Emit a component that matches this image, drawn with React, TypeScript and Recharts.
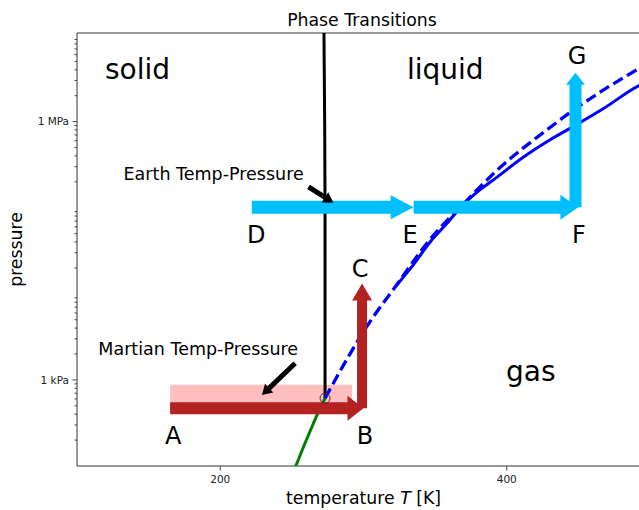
import React from 'react';
import { ComposedChart, Line, XAxis, YAxis, ReferenceArea, ReferenceDot } from 'recharts';

const FONT = '"DejaVu Sans", "Noto Sans", sans-serif';

// ---- phase boundary curves (T in K, P in Pa) ----
const meltT = [273.16, 273.15, 272.9, 272.4];
const meltP = [611.657, 1e5, 1e6, 1.07e7];

const sublT = [248, 253, 258, 263, 268, 273.16];
const sublP = [70, 103, 165, 260, 405, 611.657];

const vapApproxT = [273.16, 290, 302, 323, 346, 370, 393, 430, 446, 467, 500];
const vapApproxP = [611.657, 1930, 4100, 12600, 42000, 112000, 270000, 850000, 1.34e6, 2.3e6, 4.9e6];

const vapRealT = [323, 335, 346.5, 358, 369.5, 381, 393, 411, 430, 446, 467, 492, 500];
const vapRealP = [12500, 22000, 40000, 65000, 108000, 160000, 225000, 380000, 611000, 870000, 1.4e6, 2.6e6, 3.0e6];

const tripleT = 273.16;
const tripleP = 611.657;

// ---- Mars range ----
const marsRangeT = [165, 292];
const marsRangeP = [480, 880];

// ---- arrows ----
const marsPathT = [165, 300];
const marsPathP = [470, 470];
const marsRiseT = [299, 299];
const marsRiseP = [470, 13200];

const earthDET = [222, 335];
const earthDEP = [101325, 101325];
const earthEFT = [335, 450];
const earthEFP = [101325, 101325];
const earthFGT = [448, 448];
const earthFGP = [101325, 3.7e6];

const earthNoteT = [261.6, 279.0];
const earthNoteP = [175000, 114000];
const marsNoteT = [252.3, 229.1];
const marsNoteP = [1560, 668];

// ---- text labels (data coordinates) ----
const letterNames = ['A', 'B', 'C', 'D', 'E', 'F', 'G'];
const letterT = [167.2, 301.1, 297.6, 225.1, 332.5, 450.4, 449];
const letterP = [180, 180, 15700, 38900, 38900, 38900, 4.67e6];

const regionNames = ['solid', 'liquid', 'gas'];
const regionT = [119.5, 330.3, 399.5];
const regionP = [3.13e6, 3.13e6, 970];

const noteNames = ['Earth Temp-Pressure', 'Martian Temp-Pressure'];
const noteT = [132.5, 114.9];
const noteP = [210000, 1945];

// ---- axes ----
const xDomain = [100, 500];
const yDomain = [100, 1.07e7];
const xTicks = [200, 400];
const yMajor = [1e3, 1e6];
const yMajorLabels = ['1 kPa', '1 MPa'];
const yDecades = [1e2, 1e3, 1e4, 1e5, 1e6];
const ySubs = [2, 3, 4, 5, 6, 7, 8, 9];

const title = 'Phase Transitions';

const toPts = (xs: number[], ys: number[]) => xs.map((x, i) => ({ x, y: ys[i] }));

const yMinor = yDecades.flatMap((d) => ySubs.map((s) => s * d)).filter((v) => v < yDomain[1]);
const yTicks = [...yMinor, ...yMajor].sort((a, b) => a - b);

function arrowDot(color: string, w: number, hw: number, hl: number) {
  let first: { x: number; y: number } | null = null;
  return (props: any) => {
    const { cx, cy, index, points } = props;
    if (index === 0) {
      first = { x: cx, y: cy };
      return <g key={`s${index}`} />;
    }
    const p0 = points && points.length ? { x: points[0].x, y: points[0].y } : first;
    if (!p0) return <g key={`n${index}`} />;
    const dx = cx - p0.x;
    const dy = cy - p0.y;
    const len = Math.hypot(dx, dy) || 1;
    const ux = dx / len;
    const uy = dy / len;
    const nx = -uy;
    const ny = ux;
    const bx = cx - ux * hl;
    const by = cy - uy * hl;
    const pts = [
      [p0.x + (nx * w) / 2, p0.y + (ny * w) / 2],
      [bx + (nx * w) / 2, by + (ny * w) / 2],
      [bx + (nx * hw) / 2, by + (ny * hw) / 2],
      [cx, cy],
      [bx - (nx * hw) / 2, by - (ny * hw) / 2],
      [bx - (nx * w) / 2, by - (ny * w) / 2],
      [p0.x - (nx * w) / 2, p0.y - (ny * w) / 2],
    ]
      .map((p) => `${p[0]},${p[1]}`)
      .join(' ');
    return <polygon key={`h${index}`} points={pts} fill={color} stroke="none" />;
  };
}

const YTick = (props: any) => {
  const { x, y, payload } = props;
  const v = payload.value;
  const idx = yMajor.indexOf(v);
  const major = idx >= 0;
  const len = major ? 4.5 : 2.5;
  return (
    <g>
      <line x1={x} x2={x - len} y1={y} y2={y} stroke="#444" strokeWidth={1} />
      {major && (
        <text x={x - 8} y={y} dy="0.35em" textAnchor="end" fontSize={10.5} fill="#222" fontFamily={FONT}>
          {yMajorLabels[idx]}
        </text>
      )}
    </g>
  );
};

const XTick = (props: any) => {
  const { x, y, payload } = props;
  return (
    <g>
      <line x1={x} x2={x} y1={y} y2={y + 4.5} stroke="#444" strokeWidth={1} />
      <text x={x} y={y + 17} textAnchor="middle" fontSize={10.5} fill="#222" fontFamily={FONT}>
        {payload.value}
      </text>
    </g>
  );
};

const textShape = (label: string, size: number, anchor: string) => (props: any) => (
  <text x={props.cx} y={props.cy} textAnchor={anchor} fontSize={size} fill="#000" fontFamily={FONT}>
    {label}
  </text>
);

export default function App() {
  const W = 660;
  const H = 510;
  return (
    <div style={{ position: 'absolute', left: 0, top: 0, width: 639, height: 510, overflow: 'hidden', background: '#fff' }}>
      <ComposedChart width={W} height={H} margin={{ top: 33, right: 10, bottom: 0, left: 0 }}>
        <XAxis
          type="number"
          dataKey="x"
          domain={xDomain}
          ticks={xTicks}
          allowDataOverflow
          height={44}
          tickSize={0}
          tickMargin={0}
          tickLine={false}
          axisLine={false}
          tick={<XTick />}
          label={{
            content: (p: any) => {
              const vb = p.viewBox || { x: 77, y: 466, width: 573 };
              return (
                <text x={vb.x + vb.width / 2} y={vb.y + 37.5} textAnchor="middle" fontSize={17.3} fill="#000" fontFamily={FONT}>
                  temperature <tspan fontStyle="italic">T</tspan> [K]
                </text>
              );
            },
          }}
        />
        <YAxis
          type="number"
          dataKey="y"
          scale="log"
          domain={yDomain}
          ticks={yTicks}
          allowDataOverflow
          width={77}
          tickSize={0}
          tickMargin={0}
          tickLine={false}
          axisLine={false}
          tick={<YTick />}
          interval={0}
          label={{
            content: (p: any) => {
              const vb = p.viewBox || { x: 0, y: 33, width: 77, height: 433 };
              const cy = vb.y + vb.height / 2;
              return (
                <text x={21.5} y={cy} transform={`rotate(-90 21.5 ${cy})`} textAnchor="middle" fontSize={17.3} fill="#000" fontFamily={FONT}>
                  pressure
                </text>
              );
            },
          }}
        />

        <ReferenceArea
          x1={marsRangeT[0]}
          x2={marsRangeT[1]}
          y1={marsRangeP[0]}
          y2={marsRangeP[1]}
          fill="#ff0000"
          fillOpacity={0.25}
          stroke="none"
          ifOverflow="visible"
        />

        <Line data={toPts(sublT, sublP)} dataKey="y" type="monotone" stroke="#008000" strokeWidth={3} dot={false} activeDot={false} isAnimationActive={false} />
        <Line data={toPts(meltT, meltP)} dataKey="y" type="linear" stroke="#000000" strokeWidth={3} dot={false} activeDot={false} isAnimationActive={false} />
        <Line data={toPts(vapApproxT, vapApproxP)} dataKey="y" type="monotone" stroke="#0000ff" strokeWidth={3.3} strokeDasharray="11 5" dot={false} activeDot={false} isAnimationActive={false} />
        <Line data={toPts(vapRealT, vapRealP)} dataKey="y" type="monotone" stroke="#0000ff" strokeWidth={3} dot={false} activeDot={false} isAnimationActive={false} />

        <Line data={toPts(marsRiseT, marsRiseP)} dataKey="y" stroke="none" dot={arrowDot('#b22222', 10, 20, 17)} activeDot={false} isAnimationActive={false} />
        <Line data={toPts(marsPathT, marsPathP)} dataKey="y" stroke="none" dot={arrowDot('#b22222', 12, 25, 16)} activeDot={false} isAnimationActive={false} />
        <Line data={toPts(earthDET, earthDEP)} dataKey="y" stroke="none" dot={arrowDot('#00bfff', 13, 24, 23)} activeDot={false} isAnimationActive={false} />
        <Line data={toPts(earthEFT, earthEFP)} dataKey="y" stroke="none" dot={arrowDot('#00bfff', 13, 25, 18)} activeDot={false} isAnimationActive={false} />
        <Line data={toPts(earthFGT, earthFGP)} dataKey="y" stroke="none" dot={arrowDot('#00bfff', 12, 19, 12)} activeDot={false} isAnimationActive={false} />
        <Line data={toPts(earthNoteT, earthNoteP)} dataKey="y" stroke="none" dot={arrowDot('#000000', 5, 12, 10)} activeDot={false} isAnimationActive={false} />
        <Line data={toPts(marsNoteT, marsNoteP)} dataKey="y" stroke="none" dot={arrowDot('#000000', 5, 12, 10)} activeDot={false} isAnimationActive={false} />

        <ReferenceDot x={tripleT} y={tripleP} r={5} fill="none" stroke="#5a2e2e" strokeWidth={1} ifOverflow="visible" />

        {letterNames.map((n, i) => (
          <ReferenceDot key={n} x={letterT[i]} y={letterP[i]} r={0} ifOverflow="visible" shape={textShape(n, 24, 'middle')} />
        ))}
        {regionNames.map((n, i) => (
          <ReferenceDot key={n} x={regionT[i]} y={regionP[i]} r={0} ifOverflow="visible" shape={textShape(n, 28, 'start')} />
        ))}
        {noteNames.map((n, i) => (
          <ReferenceDot key={n} x={noteT[i]} y={noteP[i]} r={0} ifOverflow="visible" shape={textShape(n, 17.5, 'start')} />
        ))}

        <ReferenceArea x1={xDomain[0]} x2={xDomain[1]} y1={yDomain[0]} y2={yDomain[1]} fill="none" stroke="#333" strokeWidth={1} ifOverflow="visible" />
      </ComposedChart>
      <svg width={639} height={33} style={{ position: 'absolute', left: 0, top: 0, pointerEvents: 'none' }}>
        <text x={362} y={26} textAnchor="middle" fontSize={17.3} fill="#000" fontFamily={FONT}>
          {title}
        </text>
      </svg>
    </div>
  );
}
